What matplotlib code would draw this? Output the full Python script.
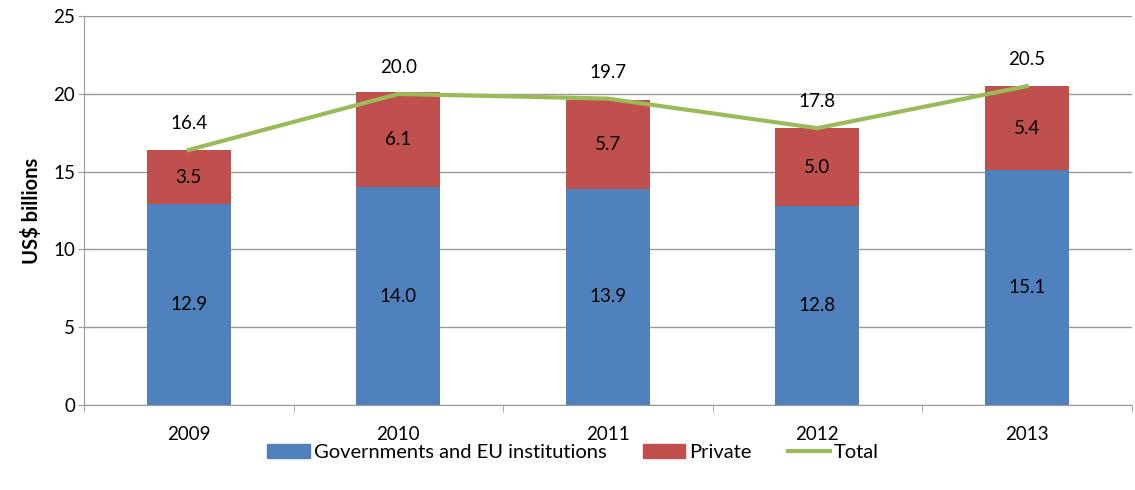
import numpy as np
import matplotlib.pyplot as plt
from matplotlib.patches import Patch
from matplotlib.lines import Line2D

plt.rcParams['font.family'] = ['Lato', 'DejaVu Sans']

# =============================================================================
# Data
# =============================================================================
years = ['2009', '2010', '2011', '2012', '2013']
government = [12.9, 14.0, 13.9, 12.8, 15.1]
private = [3.5, 6.1, 5.7, 5.0, 5.4]
total = [16.4, 20.0, 19.7, 17.8, 20.5]

blue = '#4F81BD'
red = '#C0504D'
green = '#9BBB59'
grid_col = '#9A9A9A'

# =============================================================================
# Figure
# =============================================================================
fig = plt.figure(figsize=(11.35, 4.9), dpi=100)
ax = fig.add_axes([0.074, 0.1735, 0.923, 0.7935])

x = np.arange(len(years))
w = 0.40
ax.bar(x, government, w, color=blue, zorder=2)
ax.bar(x, private, w, bottom=government, color=red, zorder=2)
ax.plot(x, total, color=green, linewidth=3, zorder=3)

fs = 13.5
for i in range(len(years)):
    ax.text(x[i], government[i] / 2, '%.1f' % government[i],
            ha='center', va='center', fontsize=fs, zorder=4)
    ax.text(x[i], government[i] + private[i] / 2, '%.1f' % private[i],
            ha='center', va='center', fontsize=fs, zorder=4)
    ax.annotate('%.1f' % total[i], (x[i], total[i]), xytext=(0, 19),
                textcoords='offset points', ha='center', va='center',
                fontsize=fs, zorder=4)

ax.set_xlim(-0.5, len(years) - 0.5)
ax.set_ylim(0, 25)
ax.set_yticks(np.arange(0, 26, 5))
ax.set_xticks(x)
ax.set_xticklabels(years)
ax.set_xticks(np.arange(-0.5, len(years), 1), minor=True)
ax.tick_params(axis='x', which='major', length=0, pad=15, labelsize=fs)
ax.tick_params(axis='x', which='minor', length=5, color=grid_col, direction='out')
ax.tick_params(axis='y', length=9, color=grid_col, direction='inout',
               labelsize=fs, pad=2)

ax.yaxis.grid(True, color=grid_col, linewidth=1, zorder=0)
ax.set_axisbelow(True)
for s in ['top', 'right']:
    ax.spines[s].set_visible(False)
for s in ['left', 'bottom']:
    ax.spines[s].set_color(grid_col)

ax.set_ylabel('US$ billions', fontsize=14.5, fontweight='bold', labelpad=8)

handles = [Patch(color=blue), Patch(color=red),
           Line2D([0], [0], color=green, linewidth=3)]
labels = ['Governments and EU institutions', 'Private', 'Total']
fig.legend(handles, labels, loc='center', bbox_to_anchor=(0.505, 0.077),
           ncol=3, frameon=False, fontsize=14.5, columnspacing=1.8,
           handlelength=2.1, handletextpad=0.2)

fig.savefig('out.png', dpi=100)
